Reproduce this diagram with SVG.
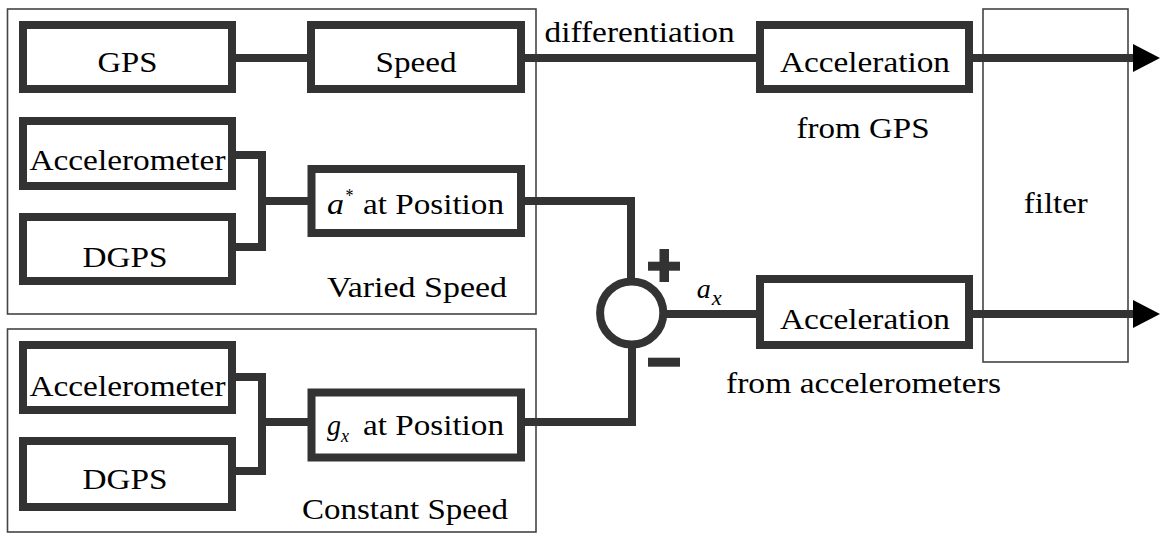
<svg xmlns="http://www.w3.org/2000/svg" width="1162" height="536" viewBox="0 0 1162 536">
<style>
.box{fill:#fff;stroke:#333;stroke-width:8}
.frame{fill:none;stroke:#444;stroke-width:1.6}
.wire{fill:none;stroke:#333;stroke-width:8}
.sign{fill:#333}
text{font-family:"Liberation Serif","Times New Roman",Times,serif;font-size:30px;fill:#000}
.m{text-anchor:middle}
.i{font-style:italic}
</style>
<defs>
<marker id="arrow" viewBox="0 0 27 28" refX="2" refY="14" markerWidth="27" markerHeight="28" markerUnits="userSpaceOnUse" orient="auto">
<path d="M0,0 L27,14 L0,28 Z" fill="#000"/>
</marker>
</defs>

<g id="frames">
<rect id="varied-speed" class="frame" x="7.5" y="9" width="528.5" height="305"/>
<rect id="constant-speed" class="frame" x="7.5" y="329" width="528.5" height="203"/>
<g id="filter">
<rect class="frame" x="983" y="9" width="145" height="353"/>
<text class="m" x="1055.8" y="213.3" textLength="64" lengthAdjust="spacingAndGlyphs">filter</text>
</g>
<text class="m" x="417" y="297" textLength="180" lengthAdjust="spacingAndGlyphs">Varied Speed</text>
<text class="m" x="405" y="518.5" textLength="206" lengthAdjust="spacingAndGlyphs">Constant Speed</text>
</g>

<g id="connectors">
<path class="wire" d="M232,58 H311"/>
<path class="wire" d="M521,58 H760"/>
<path class="wire" d="M969,58 H1135" marker-end="url(#arrow)"/>
<path class="wire" d="M232,155 H262 V247 H232 M262,201 H311"/>
<path class="wire" d="M232,377 H262 V471 H232 M262,422 H311"/>
<path class="wire" d="M521,201 H631 V282"/>
<path class="wire" d="M521,422 H632 V344"/>
<path class="wire" d="M663,314 H760"/>
<path class="wire" d="M969,314 H1135" marker-end="url(#arrow)"/>
<text class="m" x="639.6" y="41.7" textLength="190" lengthAdjust="spacingAndGlyphs">differentiation</text>
<text class="i" x="696.7" y="298" style="font-size:28px" textLength="14" lengthAdjust="spacingAndGlyphs">a</text>
<text class="i" x="711.7" y="305" style="font-size:20px" textLength="10" lengthAdjust="spacingAndGlyphs">x</text>
</g>

<g id="gps"><rect class="box" x="23" y="25" width="209" height="64"/><text class="m" x="127.5" y="72" textLength="60" lengthAdjust="spacingAndGlyphs">GPS</text></g>
<g id="speed"><rect class="box" x="311" y="25" width="210" height="64"/><text class="m" x="416" y="72" textLength="81" lengthAdjust="spacingAndGlyphs">Speed</text></g>
<g id="accelerometer-1"><rect class="box" x="23" y="121" width="209" height="65"/><text class="m" x="127.5" y="170" textLength="196" lengthAdjust="spacingAndGlyphs">Accelerometer</text></g>
<g id="dgps-1"><rect class="box" x="23" y="217" width="209" height="64"/><text class="m" x="125" y="266.5" textLength="85" lengthAdjust="spacingAndGlyphs">DGPS</text></g>
<g id="a-star-position"><rect class="box" x="311.5" y="169" width="209.5" height="64"/>
<text class="i" x="327" y="214" textLength="17" lengthAdjust="spacingAndGlyphs">a</text>
<text x="345.5" y="202" style="font-size:18px" textLength="8" lengthAdjust="spacingAndGlyphs">*</text>
<text x="363" y="214" textLength="141" lengthAdjust="spacingAndGlyphs">at Position</text></g>
<g id="accelerometer-2"><rect class="box" x="23" y="345" width="209" height="65"/><text class="m" x="127.5" y="396" textLength="196" lengthAdjust="spacingAndGlyphs">Accelerometer</text></g>
<g id="dgps-2"><rect class="box" x="23" y="441" width="209" height="66"/><text class="m" x="125" y="488.5" textLength="85" lengthAdjust="spacingAndGlyphs">DGPS</text></g>
<g id="gx-position"><rect class="box" x="311.5" y="392.5" width="209.5" height="65"/>
<text class="i" x="327" y="435" textLength="14" lengthAdjust="spacingAndGlyphs">g</text>
<text class="i" x="341" y="442" style="font-size:19px" textLength="8" lengthAdjust="spacingAndGlyphs">x</text>
<text x="363" y="435" textLength="141" lengthAdjust="spacingAndGlyphs">at Position</text></g>
<g id="acceleration-gps"><rect class="box" x="760" y="25" width="209" height="64"/><text class="m" x="865" y="71.7" textLength="170" lengthAdjust="spacingAndGlyphs">Acceleration</text>
<text class="m" x="863" y="137.5" textLength="133" lengthAdjust="spacingAndGlyphs">from GPS</text></g>
<g id="acceleration-acc"><rect class="box" x="760" y="279" width="209" height="66"/><text class="m" x="865" y="329.3" textLength="170" lengthAdjust="spacingAndGlyphs">Acceleration</text>
<text class="m" x="863.5" y="393.3" textLength="275" lengthAdjust="spacingAndGlyphs">from accelerometers</text></g>
<g id="sum">
<circle class="box" cx="631.7" cy="313" r="31.6"/>
<rect class="sign" x="648" y="261.7" width="32" height="9"/>
<rect class="sign" x="659.5" y="249" width="9.5" height="33"/>
<rect class="sign" x="648" y="357.7" width="32" height="9"/>
</g>
</svg>
